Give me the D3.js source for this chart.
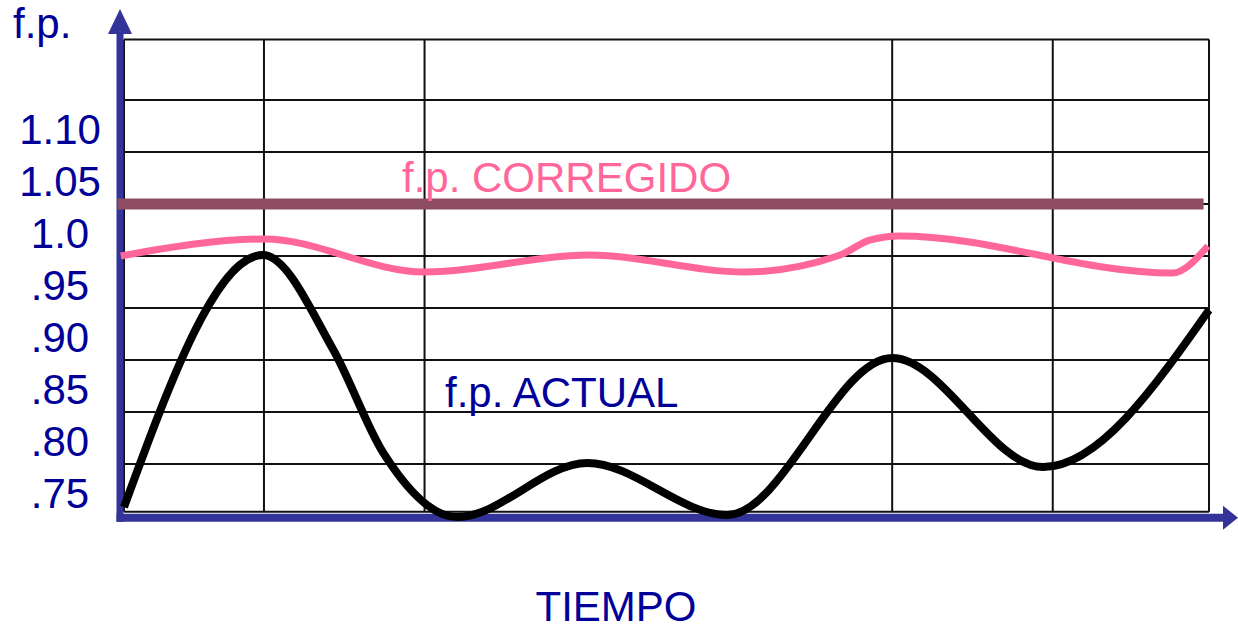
<!DOCTYPE html>
<html>
<head>
<meta charset="utf-8">
<script src="https://cdn.jsdelivr.net/npm/d3@7"></script>
<style>
  body { margin: 0; background: #fff; }
  svg { display: block; font-family: "Liberation Sans", Arial, sans-serif; }
</style>
</head>
<body>
<div id="chart"></div>
<script>
const width = 1238, height = 631;

// y labels (f.p. values)
const yLabels = [".75", ".80", ".85", ".90", ".95", "1.0", "1.05", "1.10"];
const yLabelVals = [0.75, 0.80, 0.85, 0.90, 0.95, 1.00, 1.05, 1.10];

// grid lines as drawn in the original (rows don't sit on the labels)
const gridRows = [0.732, 0.778, 0.828, 0.878, 0.928, 0.978, 1.028, 1.078, 1.128, 1.186];
const gridCols = [0, 12.9, 27.7, 70.8, 85.6, 100];

// f.p. ACTUAL  (t = time, 0..100) - peaks, valleys and ends
const actualT = [0, 12.8, 19.3, 23.9, 30.7, 42.7, 55.6, 70.8, 84.7, 100];
const actualV = [0.7365, 0.9788, 0.8875, 0.7885, 0.7269, 0.7788, 0.7288, 0.8798, 0.775, 0.926];

// f.p. with capacitors (pink)
const pinkT = [-0.3, 12.9, 27.7, 42.9, 57.2, 66.0, 68.8, 71.5, 96.6, 99.9];
const pinkV = [0.9779, 0.9942, 0.9625, 0.9788, 0.9625, 0.9788, 0.9933, 0.9971, 0.9615, 0.9875];

// f.p. CORREGIDO target line
const corrT = [-0.6, 99.5];
const corrV = 1.028;

const x = d3.scaleLinear().domain([0, 100]).range([124, 1209]);
const y = d3.scaleLinear().domain([0.75, 1.10]).range([493, 129]);

const blue = "#000099", axisBlue = "#333399", pink = "#ff6699";

const svg = d3.select("#chart")
  .append("svg")
  .attr("width", width)
  .attr("height", height);

// grid
const gTop = y(gridRows[gridRows.length - 1]), gBot = y(gridRows[0]);
svg.append("g")
  .selectAll("line")
  .data(gridRows)
  .join("line")
  .attr("x1", x(0)).attr("x2", x(100))
  .attr("y1", d => y(d)).attr("y2", d => y(d))
  .attr("stroke", "#111").attr("stroke-width", 2);

svg.append("g")
  .selectAll("line")
  .data(gridCols)
  .join("line")
  .attr("x1", d => x(d)).attr("x2", d => x(d))
  .attr("y1", gTop).attr("y2", gBot)
  .attr("stroke", "#111").attr("stroke-width", 2);

// axes with arrows
const ax = x(0) - 4, ay = gBot + 6;
svg.append("line")
  .attr("x1", ax).attr("x2", ax)
  .attr("y1", 30).attr("y2", ay + 4)
  .attr("stroke", axisBlue).attr("stroke-width", 7);
svg.append("path")
  .attr("d", `M${ax},9 L${ax - 12},34 L${ax + 12},34 Z`)
  .attr("fill", axisBlue);

svg.append("line")
  .attr("x1", ax - 3.5).attr("x2", 1226)
  .attr("y1", ay).attr("y2", ay)
  .attr("stroke", axisBlue).attr("stroke-width", 8);
svg.append("path")
  .attr("d", `M1238,${ay} L1223,${ay - 12} L1223,${ay + 12} Z`)
  .attr("fill", axisBlue);

// curves
const line = d3.line()
  .x(d => x(d[0]))
  .y(d => y(d[1]))
  .curve(d3.curveMonotoneX);

svg.append("path")
  .datum(actualT.map((t, i) => [t, actualV[i]]))
  .attr("d", line)
  .attr("fill", "none")
  .attr("stroke", "#000")
  .attr("stroke-width", 8);

svg.append("path")
  .datum(pinkT.map((t, i) => [t, pinkV[i]]))
  .attr("d", line)
  .attr("fill", "none")
  .attr("stroke", pink)
  .attr("stroke-width", 7);

svg.append("line")
  .attr("x1", x(corrT[0])).attr("x2", x(corrT[1]))
  .attr("y1", y(corrV)).attr("y2", y(corrV))
  .attr("stroke", "#8e4c62")
  .attr("stroke-width", 11);

// y labels
svg.append("g")
  .selectAll("text")
  .data(yLabelVals)
  .join("text")
  .attr("x", 60)
  .attr("y", d => y(d))
  .attr("dy", 15)
  .attr("text-anchor", "middle")
  .attr("fill", blue)
  .style("font-size", "42px")
  .text((d, i) => yLabels[i]);

svg.append("text")
  .attr("x", 13).attr("y", 38)
  .attr("fill", blue)
  .style("font-size", "42px")
  .text("f.p.");

svg.append("text")
  .attr("x", 402).attr("y", 192)
  .attr("fill", pink)
  .style("font-size", "42px")
  .text("f.p. CORREGIDO");

svg.append("text")
  .attr("x", 445).attr("y", 407)
  .attr("fill", blue)
  .style("font-size", "42px")
  .text("f.p. ACTUAL");

svg.append("text")
  .attr("x", 616).attr("y", 621)
  .attr("text-anchor", "middle")
  .attr("fill", blue)
  .style("font-size", "42px")
  .text("TIEMPO");
</script>
</body>
</html>
